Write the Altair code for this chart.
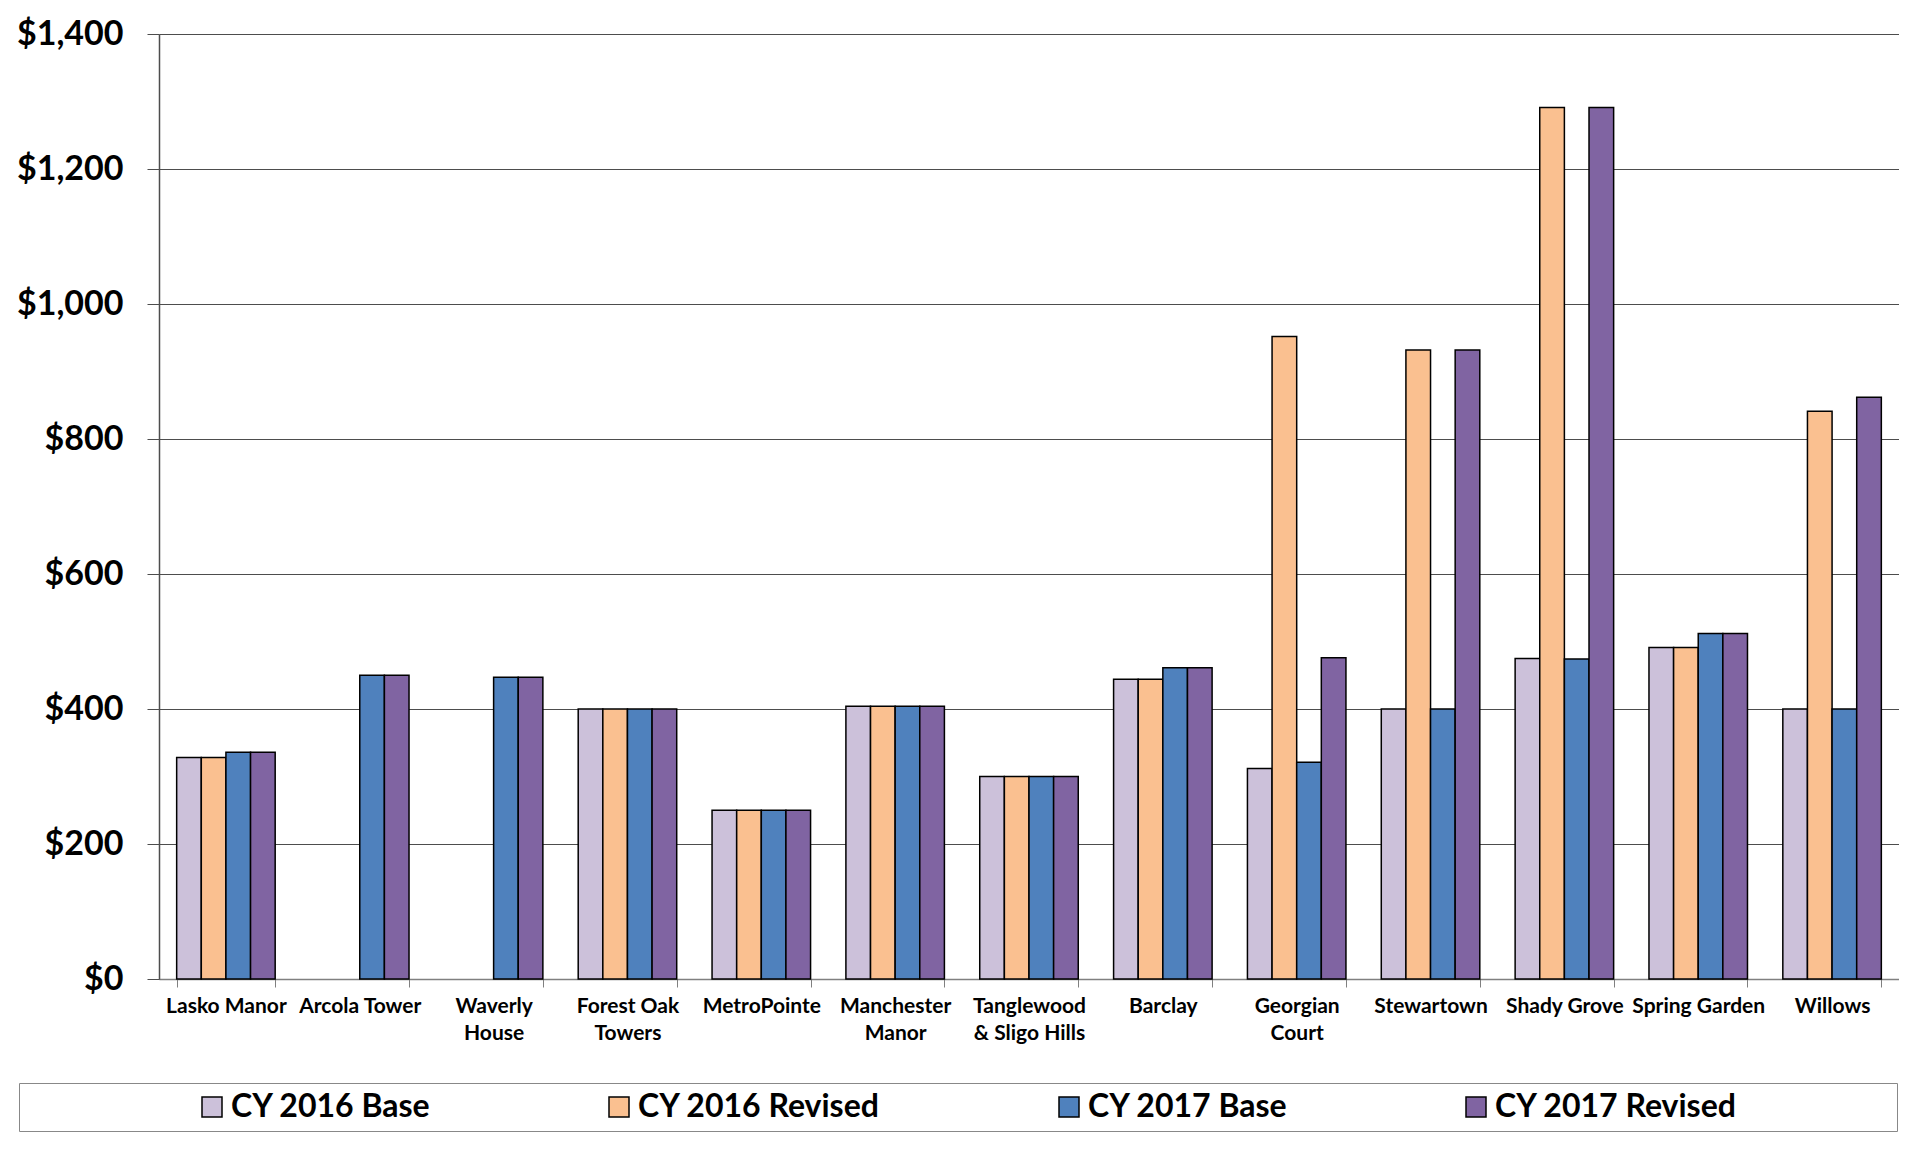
import altair as alt
import pandas as pd

categories = ["Lasko Manor", "Arcola Tower", "Waverly\nHouse", "Forest Oak\nTowers", "MetroPointe",
              "Manchester\nManor", "Tanglewood\n& Sligo Hills", "Barclay", "Georgian\nCourt",
              "Stewartown", "Shady Grove", "Spring Garden", "Willows"]
series = ["CY 2016 Base", "CY 2016 Revised", "CY 2017 Base", "CY 2017 Revised"]
colors = ["#CCC1DA", "#FAC090", "#4F81BD", "#8064A2"]

base_2016 = [328, None, None, 400, 250, 404, 300, 444, 312, 400, 475, 491, 400]
revised_2016 = [328, None, None, 400, 250, 404, 300, 444, 952, 932, 1291, 491, 841]
base_2017 = [336, 450, 447, 400, 250, 404, 300, 461, 321, 400, 474, 512, 400]
revised_2017 = [336, 450, 447, 400, 250, 404, 300, 461, 476, 932, 1291, 512, 862]

y_ticks = [0, 200, 400, 600, 800, 1000, 1200, 1400]

rows = []
for i, c in enumerate(categories):
    for s, vals in zip(series, [base_2016, revised_2016, base_2017, revised_2017]):
        if vals[i] is not None:
            rows.append({"category": c, "series": s, "value": vals[i]})
df = pd.DataFrame(rows)

FONT = "Lato"

legend = alt.Legend(
    orient="none", legendX=-140, legendY=1049, direction="horizontal", columns=4,
    symbolType="square", symbolSize=400, symbolStrokeColor="black", symbolStrokeWidth=1.5,
    symbolOpacity=1, symbolOffset=169, labelOffset=3, columnPadding=3,
    labelFont=FONT, labelFontSize=32, labelFontWeight="bold", labelColor="black", labelLimit=400,
    padding=8, strokeColor="#888888", fillColor="white",
    title="\u00a0", titleOrient="right", titlePadding=152, titleFontSize=8,
)

chart = alt.Chart(df).mark_bar(stroke="black", strokeWidth=1.5, opacity=1).encode(
    x=alt.X("category:N", sort=categories,
            scale=alt.Scale(domain=categories, paddingInner=0.264, paddingOuter=0.132),
            axis=alt.Axis(title=None, labelAngle=0, labelExpr="split(datum.label, '\\n')",
                          labelFont=FONT, labelFontSize=21, labelFontWeight="bold", labelColor="black",
                          labelLineHeight=27, labelPadding=8, labelLimit=200,
                          tickBand="extent", tickSize=8, tickColor="#808080", tickWidth=1,
                          domainColor="#808080", domainWidth=1.5, grid=False)),
    xOffset=alt.XOffset("series:N", sort=series, scale=alt.Scale(domain=series)),
    y=alt.Y("value:Q", scale=alt.Scale(domain=[0, 1400], nice=False),
            axis=alt.Axis(title=None, values=y_ticks, format="$,.0f",
                          labelFont=FONT, labelFontSize=34, labelFontWeight="bold", labelColor="black",
                          labelPadding=24, tickSize=12, tickColor="#4d4d4d", tickWidth=1,
                          domainColor="#4d4d4d", domainWidth=1.5,
                          grid=True, gridColor="#4d4d4d", gridWidth=1,
                          minExtent=146, maxExtent=146)),
    color=alt.Color("series:N", scale=alt.Scale(domain=series, range=colors), legend=legend),
).properties(
    width=1740, height=945,
    padding={"left": 5, "top": 9, "right": 0, "bottom": 0},
).configure_view(stroke="#888888", strokeWidth=1.5).configure(font=FONT, background="white")

chart.save("out.html", embed_options={"renderer": "svg", "actions": False})
